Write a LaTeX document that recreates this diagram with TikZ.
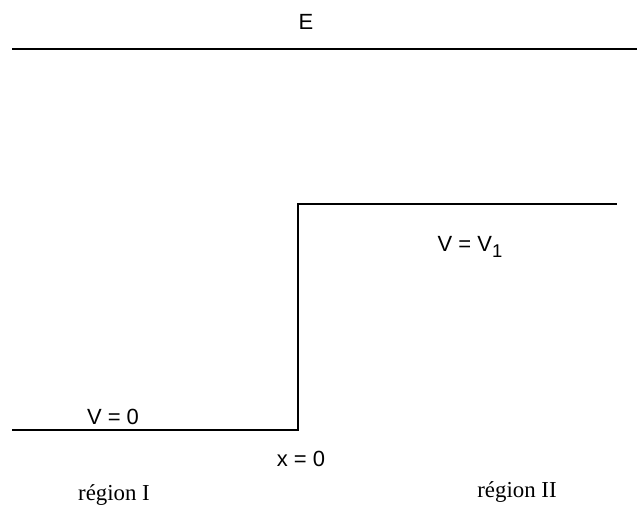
\documentclass[tikz,border=0pt]{standalone}
\usepackage{fontspec}
\setmainfont{Liberation Sans}
\newfontfamily\regionfont{Liberation Serif}
\usetikzlibrary{positioning}
\tikzset{
    level/.style={line width=1.1pt, black},
    potlabel/.style={font=\fontsize{12.5}{14}\selectfont, inner sep=0pt},
    regionlabel/.style={font=\regionfont\fontsize{13}{15}\selectfont, inner sep=0pt}
}

\begin{document}
\begin{tikzpicture}
    \useasboundingbox (0,0) rectangle (12.78,10.3);

    % Energy level
    \coordinate (eleft) at (0.24,9.32);
    \coordinate (eright) at (12.74,9.32);
    \draw[level] (eleft) -- (eright);
    \node[potlabel] (elabel) at (6.12,9.86) {E};

    % Potential step
    \coordinate (lowleft) at (0.24,1.70);
    \coordinate (stepbot) at (5.96,1.70);
    \coordinate (steptop) at (5.96,6.22);
    \coordinate (highright) at (12.34,6.22);
    \draw[level] (lowleft) -- (stepbot) -- (steptop) -- (highright);

    % Labels
    \node[potlabel] (vzero) at (2.26,1.96) {V = 0};
    \node[potlabel] (xzero) at (6.02,1.12) {x = 0};
    \node[potlabel] (vone) at (9.4,5.36) {V = V\raisebox{-0.55ex}{\fontsize{10.5}{12}\selectfont 1}};
    \node[regionlabel] (regone) at (2.28,0.40) {région I};
    \node[regionlabel] (regtwo) at (10.34,0.46) {région II};
\end{tikzpicture}
\end{document}
